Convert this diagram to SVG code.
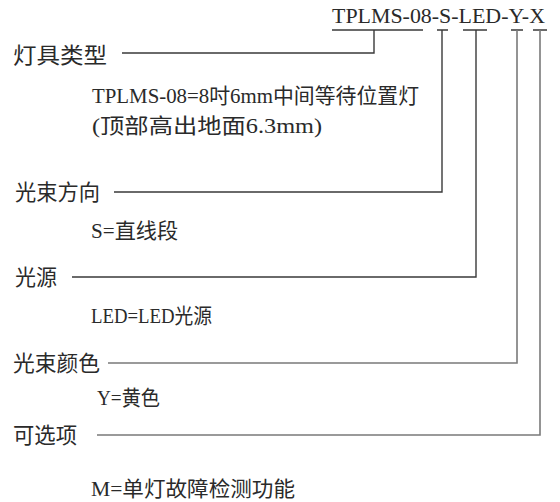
<svg xmlns="http://www.w3.org/2000/svg" width="560" height="502" viewBox="0 0 560 502">
<style>
text{font-family:"Liberation Serif","Noto Sans CJK SC",serif;fill:#2a2a2a;font-size:21px}
.lab{font-size:22px}
.code{font-size:22px}
.ln{fill:none;stroke:#3a3a3a;stroke-width:1.4}
.lg{fill:none;stroke:#7a7a7a;stroke-width:1.6}
</style>
<rect width="560" height="502" fill="#fff"/>
<g id="code"><text class="code" x="332" y="23" textLength="213" lengthAdjust="spacingAndGlyphs">TPLMS-08-S-LED-Y-X</text></g>
<g id="connectors">
<path class="ln" d="M332,30H423M437,30H448M463,30H487M511,30H523M533,30H547"/>
<path class="ln" d="M122,53H374V30"/>
<path class="ln" d="M114,192H442V30"/>
<path class="ln" d="M72,277H476V30"/>
<path class="lg" d="M108,363H517V30"/>
<path class="lg" d="M97,435H540V30"/>
</g>
<g id="type"><text class="lab" x="13" y="63" textLength="94" lengthAdjust="spacingAndGlyphs">灯具类型</text>
<text x="92" y="103" textLength="327" lengthAdjust="spacingAndGlyphs">TPLMS-08=8吋6mm中间等待位置灯</text>
<text x="92" y="133" textLength="230" lengthAdjust="spacingAndGlyphs">(顶部高出地面6.3mm)</text></g>
<g id="direction"><text class="lab" x="15" y="200" textLength="85" lengthAdjust="spacingAndGlyphs">光束方向</text>
<text x="91" y="238" textLength="87" lengthAdjust="spacingAndGlyphs">S=直线段</text></g>
<g id="source"><text class="lab" x="15" y="285" textLength="42" lengthAdjust="spacingAndGlyphs">光源</text>
<text x="91" y="323" textLength="121" lengthAdjust="spacingAndGlyphs">LED=LED光源</text></g>
<g id="color"><text class="lab" x="13" y="371" textLength="87" lengthAdjust="spacingAndGlyphs">光束颜色</text>
<text x="97" y="405" textLength="63" lengthAdjust="spacingAndGlyphs">Y=黄色</text></g>
<g id="option"><text class="lab" x="13" y="443" textLength="64" lengthAdjust="spacingAndGlyphs">可选项</text>
<text x="91" y="496" textLength="204" lengthAdjust="spacingAndGlyphs">M=单灯故障检测功能</text></g>
</svg>
